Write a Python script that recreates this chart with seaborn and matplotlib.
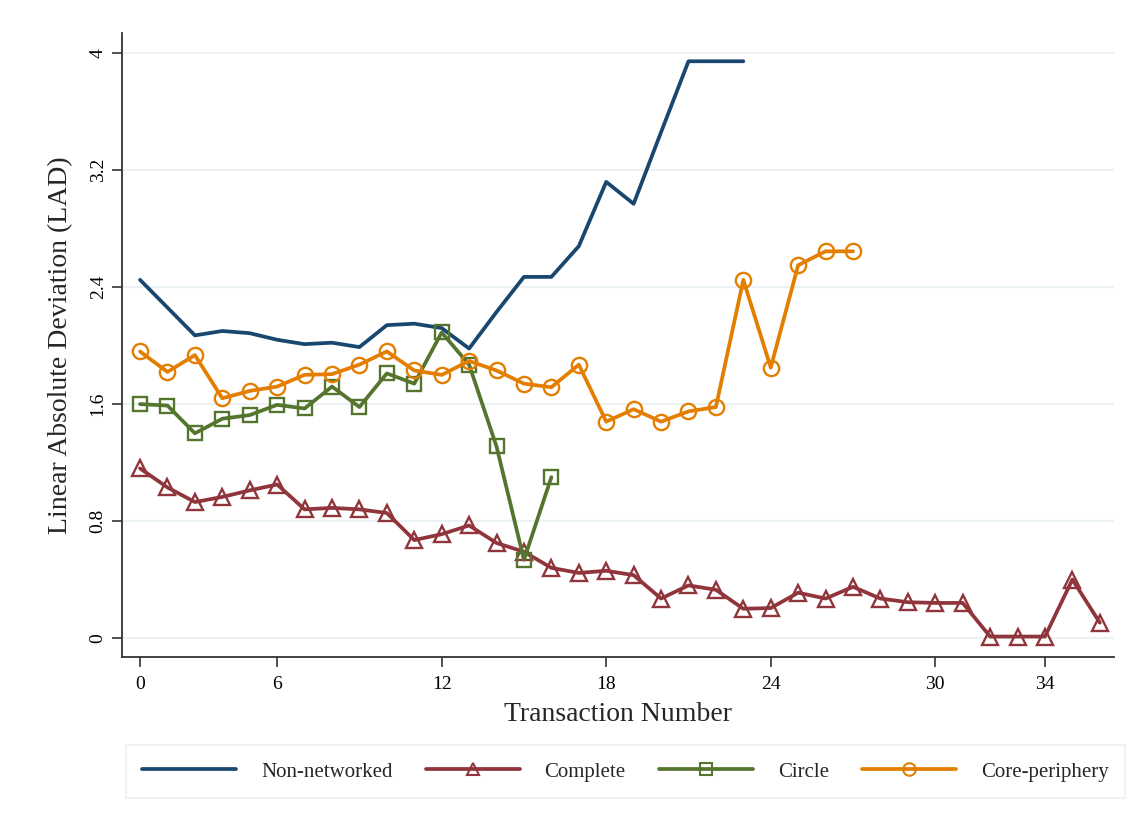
import numpy as np
import pandas as pd
import matplotlib
matplotlib.use("Agg")
import matplotlib.pyplot as plt
import seaborn as sns
from matplotlib.lines import Line2D

sns.set_theme(style="white")
plt.rcParams['font.family'] = ['Liberation Serif', 'DejaVu Serif']

# ---- data ----
non_networked = [2.45, 2.26, 2.07, 2.10, 2.085, 2.04, 2.01, 2.02, 1.99, 2.14, 2.15, 2.12,
                 1.98, 2.23, 2.47, 2.47, 2.68, 3.12, 2.97, 3.46, 3.945, 3.945, 3.945]
complete = [1.16, 1.03, 0.93, 0.965, 1.01, 1.05, 0.88, 0.89, 0.88, 0.855, 0.67, 0.71,
            0.77, 0.65, 0.59, 0.48, 0.445, 0.46, 0.43, 0.27, 0.36, 0.33, 0.20, 0.205,
            0.31, 0.27, 0.35, 0.27, 0.245, 0.24, 0.24, 0.01, 0.01, 0.01, 0.40, 0.105]
circle = [1.60, 1.59, 1.40, 1.50, 1.525, 1.595, 1.57, 1.72, 1.58, 1.81, 1.74, 2.09,
          1.87, 1.31, 0.535, 1.10]
core_periphery = [1.96, 1.82, 1.935, 1.64, 1.69, 1.72, 1.80, 1.805, 1.87, 1.96, 1.83, 1.80,
                  1.895, 1.83, 1.74, 1.715, 1.87, 1.48, 1.565, 1.48, 1.55, 1.58, 2.45,
                  1.85, 2.55, 2.645, 2.645]
series_names = ["Non-networked", "Complete", "Circle", "Core-periphery"]
x_tick_pos = [1, 6, 12, 18, 24, 30, 34]
x_tick_labels = ["0", "6", "12", "18", "24", "30", "34"]
y_ticks = [0, 0.8, 1.6, 2.4, 3.2, 4]
y_tick_labels = ["0", "0.8", "1.6", "2.4", "3.2", "4"]

colors = {"Non-networked": "#1a476f", "Complete": "#90353b",
          "Circle": "#55752f", "Core-periphery": "#e37e00"}
markers = {"Non-networked": None, "Complete": "^", "Circle": "s", "Core-periphery": "o"}
msizes = {"Complete": 11, "Circle": 10, "Core-periphery": 11}

data = {"Non-networked": non_networked, "Complete": complete,
        "Circle": circle, "Core-periphery": core_periphery}

fig = plt.figure(figsize=(11.43, 8.34), dpi=100)
ax = fig.add_axes([0.1067, 0.2122, 0.8675, 0.748])

for name in series_names:
    vals = data[name]
    df = pd.DataFrame({"x": np.arange(1, len(vals) + 1), "y": vals})
    kw = dict(color=colors[name], linewidth=2.7)
    if markers[name]:
        kw.update(marker=markers[name], markersize=msizes[name],
                  markerfacecolor="none", markeredgecolor=colors[name],
                  markeredgewidth=1.7)
    sns.lineplot(data=df, x="x", y="y", ax=ax, **kw)

ax.set_xlim(0.34, 36.5)
ax.set_ylim(-0.13, 4.137)
ax.set_yticks(y_ticks)
ax.set_yticklabels(y_tick_labels, rotation=90, va="center", fontsize=14)
ax.set_xticks(x_tick_pos)
ax.set_xticklabels(x_tick_labels, fontsize=14)
ax.tick_params(axis="both", direction="out", length=7, width=1.2, color="#333333",
               labelcolor="black", left=True, bottom=True)
ax.tick_params(axis="y", pad=4)
ax.tick_params(axis="x", pad=7)
ax.grid(axis="y", color="#eaf2f3", linewidth=1.5)
ax.grid(axis="x", visible=False)
ax.set_axisbelow(True)
for s in ["top", "right"]:
    ax.spines[s].set_visible(False)
for s in ["left", "bottom"]:
    ax.spines[s].set_color("#333333")
    ax.spines[s].set_linewidth(1.3)

ax.set_xlabel("Transaction Number", fontsize=20, labelpad=6)
ax.set_ylabel("Linear Absolute Deviation (LAD)", fontsize=20, labelpad=12)

handles = []
for name in series_names:
    h = Line2D([], [], color=colors[name], linewidth=2.7,
               marker=markers[name] if markers[name] else None,
               markersize=9, markerfacecolor="none",
               markeredgecolor=colors[name], markeredgewidth=1.5)
    handles.append(h)
leg = fig.legend(handles, series_names, loc="center", ncol=4,
                 bbox_to_anchor=(0.5472, 0.0745), frameon=True, fontsize=15,
                 handlelength=4.5, columnspacing=1.6, handletextpad=1.2,
                 borderpad=0.8, fancybox=False)
leg.get_frame().set_edgecolor("#e3ecf0")
leg.get_frame().set_linewidth(1.2)

fig.savefig("out.png", dpi=100, facecolor="white")
